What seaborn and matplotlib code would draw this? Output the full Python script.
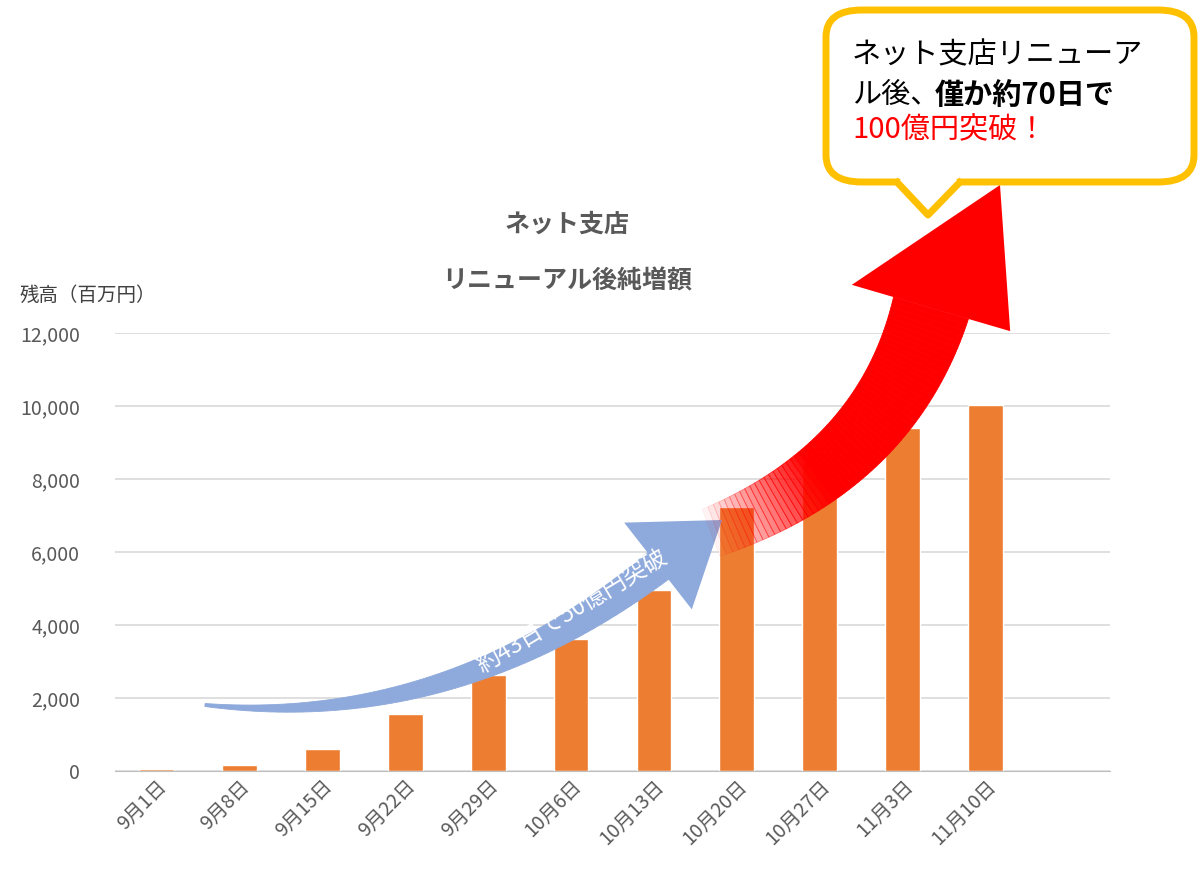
import numpy as np
import pandas as pd
import seaborn as sns
import matplotlib.pyplot as plt
from matplotlib.patches import FancyBboxPatch, Polygon

dates = ['9月1日', '9月8日', '9月15日', '9月22日', '9月29日', '10月6日', '10月13日',
         '10月20日', '10月27日', '11月3日', '11月10日']
balance = [50, 160, 600, 1560, 2620, 3620, 4960, 7230, 8460, 9390, 10030]
yticks = [0, 2000, 4000, 6000, 8000, 10000, 12000]

sns.set_style('white')
plt.rcParams['font.family'] = ['Noto Sans CJK JP', 'DejaVu Sans']

W, H = 1200, 893
fig = plt.figure(figsize=(12, 8.93), dpi=100)
ax = fig.add_axes([115 / W, (H - 771) / H, 995 / W, 438 / H])

df = pd.DataFrame({'date': dates, 'balance': balance})
sns.barplot(data=df, x='date', y='balance', color='#ED7D31', saturation=1, width=0.42, ax=ax)
ax.set_xlim(-0.5, 11.5)
ax.set_ylim(0, 12000)
ax.set_yticks(yticks)
ax.set_yticklabels([f'{v:,}' for v in yticks], fontsize=14, color='#595959')
ax.set_xticks(range(len(dates)))
ax.set_xticklabels(dates, rotation=45, ha='right', rotation_mode='anchor', fontsize=14, color='#595959')
ax.set_xlabel('')
ax.set_ylabel('')
ax.grid(axis='y', color='#D9D9D9', lw=1.2)
ax.set_axisbelow(True)
for s in ['top', 'right', 'left']:
    ax.spines[s].set_visible(False)
ax.spines['bottom'].set_color('#BFBFBF')
ax.tick_params(axis='both', length=0)
ax.tick_params(axis='y', pad=25)


def f(x, y):
    return (x / W, 1 - y / H)


def curved_arrow(p0, p1, p2, tip, w0, w1, head_w, color, fade_to=0.0, n=60):
    # arrow body along a quadratic bezier (pixel coords), then a triangular head
    p0, p1, p2, tip = map(np.array, (p0, p1, p2, tip))
    t = np.linspace(0, 1, n)
    pts = ((1 - t)[:, None] ** 2 * p0 + 2 * ((1 - t) * t)[:, None] * p1 + (t ** 2)[:, None] * p2)
    d = np.gradient(pts, axis=0)
    nrm = np.stack([-d[:, 1], d[:, 0]], axis=1)
    nrm /= np.linalg.norm(nrm, axis=1)[:, None]
    w = w0 + (w1 - w0) * t
    left = pts + nrm * w[:, None] / 2
    right = pts - nrm * w[:, None] / 2
    for i in range(n - 1):
        a = 1.0 if fade_to <= 0 else min(1.0, t[i] / fade_to)
        quad = [left[i], left[i + 1] + 0.5 * (left[i + 1] - left[i]) * 0, right[i + 1], right[i]]
        fig.add_artist(Polygon([f(*q) for q in quad], transform=fig.transFigure,
                               facecolor=color, edgecolor=color, lw=0.6, alpha=a))
    head = [p2 + nrm[-1] * head_w / 2, tip, p2 - nrm[-1] * head_w / 2]
    fig.add_artist(Polygon([f(*q) for q in head], transform=fig.transFigure,
                           facecolor=color, edgecolor='none'))


fig.text(*f(20, 295), '残高（百万円）', fontsize=14, color='#404040', va='center')
fig.text(*f(567, 225), 'ネット支店', fontsize=18, fontweight='bold', color='#595959', ha='center', va='center')
fig.text(*f(567, 281), 'リニューアル後純増額', fontsize=18, fontweight='bold', color='#595959', ha='center', va='center')

curved_arrow((205, 705), (450, 730), (658, 566), (722, 520), 3, 34, 110, '#8EA9DB')
fig.text(*f(572, 612), '約43日で50億円突破', fontsize=17, color='white', rotation=31,
         ha='center', va='center')

curved_arrow((705, 535), (885, 470), (931, 308), (1000, 185), 50, 78, 165, '#FF0000', fade_to=0.35)

# callout
box = FancyBboxPatch(f(826, 182), 368 / W, 172 / H, boxstyle='round,pad=0,rounding_size=0.03',
                     transform=fig.transFigure, facecolor='white', edgecolor='#FFC000', lw=5)
fig.add_artist(box)
tri = Polygon([f(895, 180), f(928, 215), f(962, 180)], closed=False, transform=fig.transFigure,
              facecolor='white', edgecolor='#FFC000', lw=5, joinstyle='round')
fig.add_artist(tri)
fig.add_artist(Polygon([f(899, 178), f(928, 208), f(958, 178)], transform=fig.transFigure,
                       facecolor='white', edgecolor='none'))
fig.text(*f(852, 55), 'ネット支店リニューア', fontsize=21, color='black', va='center')
fig.text(*f(852, 95), 'ル後、', fontsize=21, color='black', va='center')
fig.text(*f(935, 95), '僅か約70日で', fontsize=21, color='black', va='center', fontweight='bold')
fig.text(*f(852, 130), '100億円突破！', fontsize=21, color='#FF0000', va='center')

fig.savefig('out.png', dpi=100)
